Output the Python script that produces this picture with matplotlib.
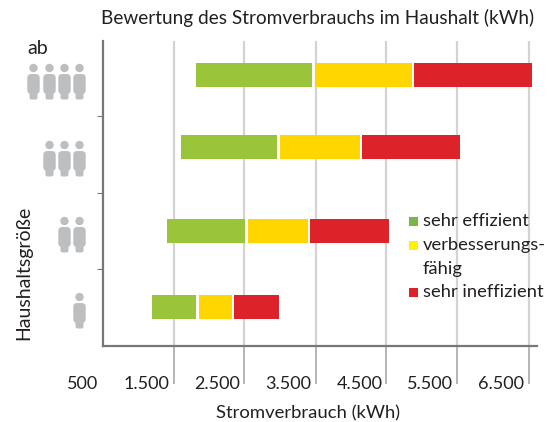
import matplotlib
matplotlib.use("Agg")
import matplotlib.pyplot as plt
from matplotlib.patches import Circle, FancyBboxPatch, Rectangle

W, H = 558, 422

# values, smallest household first
y_pos = [0.503, 1.497, 2.595, 3.536]
people = [1, 2, 3, 4]
green_start = [1197, 1408, 1606, 1817]
green_end = [1817, 2507, 2958, 3451]
yellow_start = [1859, 2549, 2993, 3493]
yellow_end = [2324, 3394, 4127, 4859]
red_start = [2352, 3423, 4155, 4887]
red_end = [2986, 4535, 5535, 6549]

x_ticks = [500, 1500, 2500, 3500, 4500, 5500, 6500]
x_labels = ["500", "1.500", "2.500", "3.500", "4.500", "5.500", "6.500"]
legend_labels = ["sehr effizient", "verbesserungs-\nfähig", "sehr ineffizient"]

GREEN = "#9ac43a"
YELLOW = "#ffd600"
RED = "#dd2229"
GRID = "#d3d3d5"
AXIS = "#77777a"
ICON = "#bdbec0"
TEXT = "#231f20"

plt.rcParams["font.family"] = ["Lato", "DejaVu Sans"]

fig = plt.figure(figsize=(W / 100, H / 100), dpi=100)
left, right, top, bottom = 102.5, 537, 41, 345.5
ax = fig.add_axes([left / W, 1 - bottom / H, (right - left) / W, (bottom - top) / H])

# 71 px per 1000 kWh, 500 sits on the y axis
ax.set_xlim(500, 500 + (right - left) / 71 * 1000)
ax.set_ylim(0, (bottom - top) / 76.5)

h = 0.314
for start, end, color in [(green_start, green_end, GREEN),
                          (yellow_start, yellow_end, YELLOW),
                          (red_start, red_end, RED)]:
    widths = [e - s for s, e in zip(start, end)]
    ax.barh(y_pos, widths, left=start, height=h, color=color, zorder=3)

for t in x_ticks[1:]:
    ax.axvline(t, color=GRID, lw=1.6, zorder=1)

for s in ["top", "right"]:
    ax.spines[s].set_visible(False)
for s in ["left", "bottom"]:
    ax.spines[s].set_color(AXIS)
    ax.spines[s].set_linewidth(1.6)
    ax.spines[s].set_zorder(2)

ax.set_yticks([1, 2, 3])
ax.set_yticklabels([])
ax.tick_params(axis="y", length=4.5, width=0.8, color=AXIS)

ax.set_xticks(x_ticks[1:])
ax.set_xticklabels([])
ax.tick_params(axis="x", length=27, width=1.2, color="#a8a8aa")
# labels sit left of their tick
for t, lab in zip(x_ticks, x_labels):
    ax.annotate(lab, xy=(t, 0), xytext=(-3, -27.5), textcoords="offset points",
                ha="right", va="center", fontsize=13, color=TEXT)

# pixel overlay for icons, legend and free text
ov = fig.add_axes([0, 0, 1, 1], zorder=5)
ov.set_xlim(0, W)
ov.set_ylim(H, 0)
ov.axis("off")

def person(cx, head_y):
    ov.add_patch(Circle((cx, head_y), 4.2, color=ICON, lw=0))
    ov.add_patch(FancyBboxPatch((cx - 3.2, head_y + 9), 6.4, 14,
                                boxstyle="round,pad=3,rounding_size=4",
                                color=ICON, lw=0))
    ov.add_patch(FancyBboxPatch((cx - 2.5, head_y + 20), 5, 10,
                                boxstyle="round,pad=1.5,rounding_size=2",
                                color=ICON, lw=0))

icon_x = [79.5, 64.5, 49.5, 33.5]
head_y = [297, 221, 145, 68]
for n, hy in zip(people, head_y):
    for cx in icon_x[:n]:
        person(cx, hy)

ov.text(318, 18, "Bewertung des Stromverbrauchs im Haushalt (kWh)",
        ha="center", va="center", fontsize=13.7, color=TEXT)
ov.text(38, 48, "ab", ha="center", va="center", fontsize=14, color=TEXT)
ov.text(308, 413, "Stromverbrauch (kWh)", ha="center", va="center", fontsize=13.3, color=TEXT)
ov.text(24, 273, "Haushaltsgröße", ha="center", va="center", rotation=90, fontsize=14, color=TEXT)

legend_colors = ["#7ab648", "#fff200", RED]
legend_y = [221, 245, 292]
for lab, c, ly in zip(legend_labels, legend_colors, legend_y):
    ov.add_patch(Rectangle((409, ly - 4.5), 9, 9, color=c, lw=0))
    ov.text(423, ly, lab.split("\n")[0], ha="left", va="center", fontsize=13.2, color=TEXT)
    if "\n" in lab:
        ov.text(423, ly + 24, lab.split("\n")[1], ha="left", va="center", fontsize=13.2, color=TEXT)

fig.savefig("out.png", dpi=100)
